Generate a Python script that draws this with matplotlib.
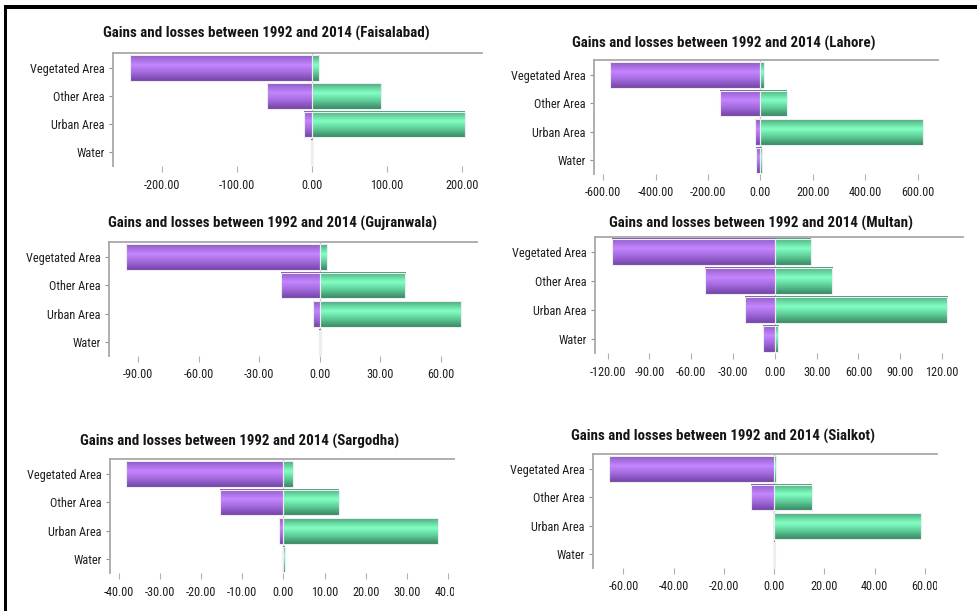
import numpy as np
import matplotlib
matplotlib.use("Agg")
import matplotlib.pyplot as plt
from matplotlib import font_manager
from matplotlib.colors import LinearSegmentedColormap
from matplotlib.patches import Rectangle
from matplotlib.transforms import Bbox, TransformedBbox

# ---- data -------------------------------------------------------------
categories = ["Vegetated Area", "Other Area", "Urban Area", "Water"]
cities = ["Faisalabad", "Lahore", "Gujranwala", "Multan", "Sargodha", "Sialkot"]

faisalabad_loss = [-242.0, -60.0, -10.0, -1.5]
faisalabad_gain = [10.0, 92.0, 204.0, 0.3]
lahore_loss = [-575.0, -155.0, -22.0, -15.0]
lahore_gain = [12.0, 102.0, 620.0, 6.0]
gujranwala_loss = [-96.3, -19.3, -3.1, -0.2]
gujranwala_gain = [3.5, 42.5, 70.2, 0.4]
multan_loss = [-117.0, -50.2, -21.3, -8.4]
multan_gain = [25.8, 41.1, 123.6, 2.6]
sargodha_loss = [-38.2, -15.4, -1.0, -0.1]
sargodha_gain = [2.3, 13.4, 37.6, 0.3]
sialkot_loss = [-65.9, -9.2, -0.4, -0.1]
sialkot_gain = [0.7, 15.0, 58.5, 0.3]

losses = [faisalabad_loss, lahore_loss, gujranwala_loss, multan_loss, sargodha_loss, sialkot_loss]
gains = [faisalabad_gain, lahore_gain, gujranwala_gain, multan_gain, sargodha_gain, sialkot_gain]

x_ticks = [
    [-200, -100, 0, 100, 200],
    [-600, -400, -200, 0, 200, 400, 600],
    [-90, -60, -30, 0, 30, 60],
    [-120, -90, -60, -30, 0, 30, 60, 90, 120],
    [-40, -30, -20, -10, 0, 10, 20, 30, 40],
    [-60, -40, -20, 0, 20, 40, 60],
]
x_limits = [(-265, 227), (-635, 678), (-104.5, 78), (-129, 135), (-42.1, 41.4), (-72.1, 64.8)]

# ---- layout (pixel boxes: left, top, right, bottom) --------------------
W, H = 978, 611
boxes = [
    (113, 53, 482, 166),
    (594, 60, 938, 174),
    (109, 242, 477, 356),
    (595, 237, 963, 353),
    (110, 459, 454, 573),
    (593, 454, 937, 568),
]
title_pos = [(266, 33), (724, 43), (272, 223), (761, 223), (240, 441), (723, 436)]

# prefer a narrow sans face; otherwise shrink the regular one
entries = font_manager.fontManager.ttflist
names = {f.name for f in entries}
condensed = None
for cand in ["Liberation Sans Narrow", "Arial Narrow", "Roboto Condensed",
             "Open Sans Condensed", "DejaVu Sans Condensed"]:
    if cand in names:
        condensed = cand
        break
stretch = "normal"
if condensed is None:
    for f in entries:
        if f.stretch in ("condensed", "semi-condensed", 75, 87.5) or "Condensed" in f.fname:
            condensed = f.name
            stretch = "condensed"
            break
if condensed is not None:
    plt.rcParams["font.family"] = [condensed, "DejaVu Sans"]
    plt.rcParams["font.stretch"] = stretch
    title_size, tick_size = 10.8, 8.8
else:
    plt.rcParams["font.family"] = ["Liberation Sans", "DejaVu Sans"]
    title_size, tick_size = 9.2, 7.9

# gradient profiles across the bar height (top -> bottom)
purple_cmap = LinearSegmentedColormap.from_list(
    "purple_band",
    [(0.0, "#8658b8"), (0.12, "#a06ad8"), (0.38, "#c585ff"),
     (0.65, "#a56ce0"), (0.88, "#8552bb"), (1.0, "#7346a3")])
green_cmap = LinearSegmentedColormap.from_list(
    "green_band",
    [(0.0, "#4a9e76"), (0.12, "#5fc995"), (0.38, "#82ffc4"),
     (0.65, "#62d39c"), (0.88, "#46a277"), (1.0, "#3b8a64")])
grad = np.linspace(0, 1, 64).reshape(-1, 1)

fig = plt.figure(figsize=(W / 100, H / 100), dpi=100)
fig.patch.set_facecolor("white")

# frame lines along the top and left
fig.add_artist(Rectangle((4 / W, 1 - 9 / H), 1 - 4 / W, 4 / H, transform=fig.transFigure,
                         facecolor="black", edgecolor="none"))
fig.add_artist(Rectangle((4 / W, 0), 3 / W, 1 - 5 / H, transform=fig.transFigure,
                         facecolor="black", edgecolor="none"))

ypos = np.arange(len(categories))
bar_h = 0.9

for i, city in enumerate(cities):
    l, t, r, b = boxes[i]
    ax = fig.add_axes([l / W, 1 - b / H, (r - l) / W, (b - t) / H])
    ax.axvline(0, color="#c8c8c8", lw=1.0, zorder=1)

    for vals, cmap in ((losses[i], purple_cmap), (gains[i], green_cmap)):
        bars = ax.barh(ypos, vals, height=bar_h, facecolor="none",
                       edgecolor="#ececf2", linewidth=0.8, zorder=3)
        for p in bars.patches:
            x0, w = p.get_x(), p.get_width()
            y0, h = p.get_y(), p.get_height()
            ax.imshow(grad, cmap=cmap, aspect="auto", interpolation="bilinear",
                      extent=(x0, x0 + w, y0 + h, y0), origin="upper", zorder=2)

    ax.set_xlim(*x_limits[i])
    ax.set_ylim(3.48, -0.53)
    ax.set_yticks(ypos)
    ax.set_yticklabels(categories)
    ax.set_xticks(x_ticks[i])
    ax.set_xticklabels([f"{v:.2f}" for v in x_ticks[i]])

    for s in ("bottom", "right"):
        ax.spines[s].set_visible(False)
    for s in ("top", "left"):
        ax.spines[s].set_color("#a8a8a8")
        ax.spines[s].set_linewidth(1.3)

    ax.tick_params(axis="y", length=3, width=0.8, color="#909090", pad=3,
                   labelsize=tick_size, labelcolor="#1e1e1e")
    ax.tick_params(axis="x", length=4, width=0.8, color="#b0b0b0", pad=5,
                   labelsize=tick_size, labelcolor="#1e1e1e")

    # tick labels are cut at the right end of the plot area
    clip = TransformedBbox(Bbox([[-2, -2], [1, 0.5]]), ax.transAxes)
    for lab in ax.get_xticklabels():
        lab.set_clip_on(True)
        lab.set_clip_box(clip)

    tx, ty = title_pos[i]
    fig.text(tx / W, 1 - ty / H, f"Gains and losses between 1992 and 2014 ({city})",
             ha="center", va="center", fontsize=title_size, fontweight="bold", color="#151515")

fig.savefig("out.png", dpi=100, facecolor="white")
